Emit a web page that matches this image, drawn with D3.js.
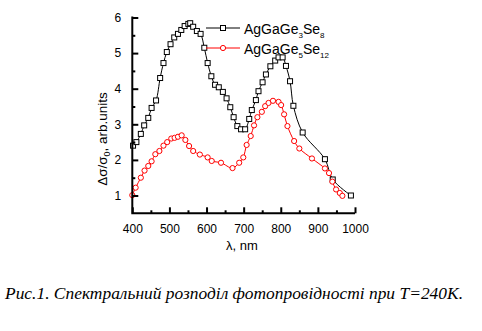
<!DOCTYPE html>
<html>
<head>
<meta charset="utf-8">
<script src="https://cdn.jsdelivr.net/npm/d3@7/dist/d3.min.js"></script>
<style>
  html, body { margin: 0; padding: 0; background: #fff; }
  svg { display: block; }
</style>
</head>
<body>
<svg id="chart" width="482" height="331"></svg>
<script>
// ---- data ----
const xTicks = [400, 500, 600, 700, 800, 900, 1000];
const yTicks = [1, 2, 3, 4, 5, 6];
const seriesNames = ["AgGaGe3Se8", "AgGaGe5Se12"];

const lambda1 = [402, 411, 423, 432, 443, 452, 464, 475, 484, 493, 503, 513, 523, 532, 541, 551, 556, 564, 574, 584, 594, 603, 613, 623, 633, 644, 654, 664, 673, 683, 693, 704, 715, 722, 733, 740, 751, 760, 772, 785, 794, 805, 814, 825, 834, 859, 919, 940, 989];
const signal1 = [2.40, 2.50, 2.73, 2.97, 3.18, 3.46, 3.67, 4.30, 4.72, 5.03, 5.25, 5.44, 5.54, 5.65, 5.76, 5.82, 5.84, 5.74, 5.62, 5.54, 5.15, 4.72, 4.35, 4.11, 4.04, 3.91, 3.73, 3.48, 3.20, 2.95, 2.86, 2.86, 3.15, 3.40, 3.68, 3.93, 4.18, 4.40, 4.63, 4.79, 4.88, 4.88, 4.64, 4.21, 3.52, 2.77, 2.02, 1.45, 1.00];

const lambda2 = [400, 409, 423, 433, 443, 452, 462, 473, 484, 494, 505, 514, 523, 533, 543, 553, 564, 582, 603, 614, 639, 670, 688, 699, 708, 719, 728, 737, 749, 758, 767, 779, 794, 801, 809, 818, 836, 850, 884, 919, 930, 939, 949, 959, 966];
const signal2 = [1.01, 1.22, 1.50, 1.70, 1.83, 1.96, 2.16, 2.25, 2.40, 2.50, 2.60, 2.62, 2.65, 2.69, 2.56, 2.39, 2.25, 2.15, 2.07, 1.97, 1.92, 1.77, 1.92, 2.07, 2.42, 2.67, 2.97, 3.20, 3.35, 3.51, 3.60, 3.66, 3.63, 3.54, 3.28, 2.95, 2.53, 2.32, 2.04, 1.76, 1.63, 1.39, 1.17, 1.07, 0.99];

// ---- layout ----
const svg = d3.select("#chart");
svg.append("rect").attr("width", 482).attr("height", 331).attr("fill", "#fff");

const x = d3.scaleLinear().domain([400, 1000]).range([132.3, 355]);
const y = d3.scaleLinear().domain([0.5, 6]).range([213.3, 17.5]);

const g = svg.append("g");

// series
const line = d3.line().x(d => x(d[0])).y(d => y(d[1])).curve(d3.curveCatmullRom.alpha(0.5));
const s1 = lambda1.map((l, i) => [l, signal1[i]]);
const s2 = lambda2.map((l, i) => [l, signal2[i]]);

g.append("path").datum(s1).attr("d", line).attr("fill", "none").attr("stroke", "#000").attr("stroke-width", 1);
g.append("path").datum(s2).attr("d", line).attr("fill", "none").attr("stroke", "#ff0000").attr("stroke-width", 1);

g.selectAll(".sq").data(s1).enter().append("rect")
  .attr("x", d => x(d[0]) - 2.5).attr("y", d => y(d[1]) - 2.5)
  .attr("width", 5).attr("height", 5)
  .attr("fill", "#fff").attr("stroke", "#000").attr("stroke-width", 1);

g.selectAll(".ci").data(s2).enter().append("circle")
  .attr("cx", d => x(d[0])).attr("cy", d => y(d[1])).attr("r", 2.6)
  .attr("fill", "#fff").attr("stroke", "#ff0000").attr("stroke-width", 1);

// axes
const xAxis = d3.axisBottom(x).tickValues(xTicks).tickSize(-6).tickPadding(11).tickFormat(d3.format("d"));
const xMinor = d3.axisBottom(x).tickValues(d3.range(450, 1000, 100)).tickSize(-3).tickFormat("");
const yAxis = d3.axisLeft(y).tickValues(yTicks).tickSize(-6).tickPadding(11).tickFormat(d3.format("d"));
const yMinor = d3.axisLeft(y).tickValues(d3.range(1.5, 6, 1)).tickSize(-3).tickFormat("");

function styleAxis(sel) {
  sel.select(".domain").attr("stroke", "#000").attr("stroke-width", 2);
  sel.selectAll(".tick line").attr("stroke", "#000").attr("stroke-width", 2);
  sel.selectAll("text").attr("fill", "#000").style("font-family", "Arial, 'Liberation Sans', sans-serif").style("font-size", "12px");
}

g.append("g").attr("transform", "translate(0,213.3)").call(xMinor).call(styleAxis);
g.append("g").attr("transform", "translate(0,213.3)").call(xAxis).call(styleAxis);
g.append("g").attr("transform", "translate(132.3,0)").call(yMinor).call(styleAxis);
g.append("g").attr("transform", "translate(132.3,0)").call(yAxis).call(styleAxis);
g.selectAll(".domain").attr("d", null);
// axis lines
g.append("path").attr("d", `M${x(400)},${y(6)-1}V${y(0.5)}H${x(1000)}`)
  .attr("fill", "none").attr("stroke", "#000").attr("stroke-width", 2);

// axis titles
const font = "Arial, 'Liberation Sans', sans-serif";
svg.append("text").attr("x", 242).attr("y", 250).attr("text-anchor", "middle")
  .style("font-family", font).style("font-size", "13px").attr("fill", "#000").text("λ, nm");

const yl = svg.append("text").attr("transform", "translate(107,139) rotate(-90)").attr("text-anchor", "middle")
  .style("font-family", font).style("font-size", "13.5px").attr("fill", "#000");
yl.append("tspan").text("Δσ/σ");
yl.append("tspan").attr("dy", 3).style("font-size", "9px").text("0");
yl.append("tspan").attr("dy", -3).text(", arb.units");

// legend
const legend = [
  { name: seriesNames[0], base: "AgGaGe", n1: "3", n2: "8", color: "#000", shape: "square", y: 28 },
  { name: seriesNames[1], base: "AgGaGe", n1: "5", n2: "12", color: "#ff0000", shape: "circle", y: 48 }
];
legend.forEach(L => {
  svg.append("line").attr("x1", 206).attr("x2", 240).attr("y1", L.y).attr("y2", L.y)
    .attr("stroke", L.color).attr("stroke-width", 1);
  if (L.shape === "square") {
    svg.append("rect").attr("x", 223 - 2.5).attr("y", L.y - 2.5).attr("width", 5).attr("height", 5)
      .attr("fill", "#fff").attr("stroke", L.color);
  } else {
    svg.append("circle").attr("cx", 223).attr("cy", L.y).attr("r", 2.6)
      .attr("fill", "#fff").attr("stroke", L.color);
  }
  const t = svg.append("text").attr("x", 244).attr("y", L.y + 5.5)
    .style("font-family", font).style("font-size", "14px").attr("fill", "#000");
  t.append("tspan").text(L.base);
  t.append("tspan").attr("dy", 4).style("font-size", "8px").text(L.n1);
  t.append("tspan").attr("dy", -4).text("Se");
  t.append("tspan").attr("dy", 4).style("font-size", "8px").text(L.n2);
});

// caption
svg.append("text").attr("x", 5).attr("y", 299)
  .attr("textLength", 458).attr("lengthAdjust", "spacingAndGlyphs")
  .style("font-family", "'Liberation Serif', 'Times New Roman', serif").style("font-style", "italic").style("font-size", "16.5px")
  .attr("fill", "#000").text("Рис.1. Спектральний розподіл фотопровідності при T=240K.");
</script>
</body>
</html>
